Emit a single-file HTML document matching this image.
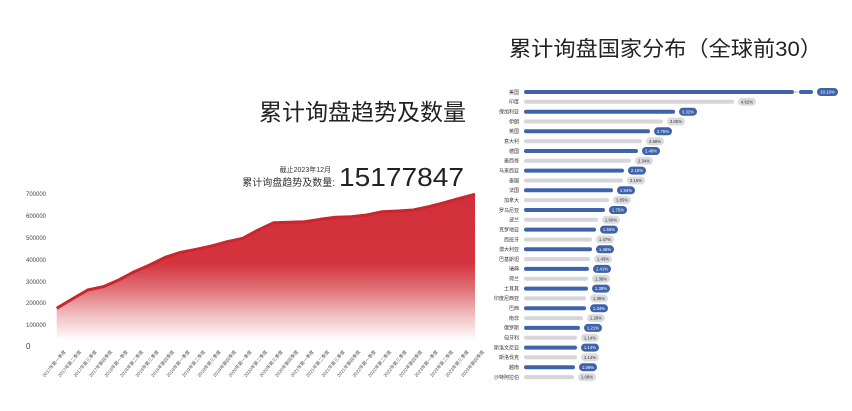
<!DOCTYPE html>
<html><head><meta charset="utf-8"><style>
html,body{margin:0;padding:0;background:#fff;}
svg{display:block;font-family:"Liberation Sans","Noto Sans CJK SC",sans-serif;}
</style></head><body>
<svg width="852" height="411" viewBox="0 0 852 411" xmlns="http://www.w3.org/2000/svg">
<defs>
<linearGradient id="g" gradientUnits="userSpaceOnUse" x1="0" y1="194" x2="0" y2="348">
<stop offset="0" stop-color="#d1303a"/>
<stop offset="0.45" stop-color="#d3343e"/>
<stop offset="0.62" stop-color="#e07378"/>
<stop offset="0.8" stop-color="#f3c4c6"/>
<stop offset="0.95" stop-color="#ffffff"/>
<stop offset="1" stop-color="#ffffff"/>
</linearGradient>
</defs>
<text x="466" y="120" font-size="23" text-anchor="end" fill="#222">累计询盘趋势及数量</text>
<text x="331" y="172" font-size="7" text-anchor="end" fill="#333">截止2023年12月</text>
<text x="335" y="186" font-size="10" text-anchor="end" fill="#333">累计询盘趋势及数量:</text>
<text x="339" y="186" font-size="26" fill="#222" textLength="125" lengthAdjust="spacingAndGlyphs">15177847</text>
<g font-size="6" fill="#444" text-anchor="start">
<text x="26" y="196">700000</text>
<text x="26" y="218">600000</text>
<text x="26" y="240">500000</text>
<text x="26" y="262">400000</text>
<text x="26" y="284">300000</text>
<text x="26" y="305">200000</text>
<text x="26" y="327">100000</text>
<text x="26" y="349" font-size="8">0</text>
</g>
<path fill="url(#g)" d="M56.7,308.3 L72.2,299 L87.7,290 L103.2,286.7 L118.7,280 L134.2,271.7 L149.7,265 L165.2,257.3 L180.7,252.3 L196.2,249.3 L211.7,246 L227.2,241.7 L242.7,238.3 L258.2,230 L273.7,222.7 L289.2,222.3 L304.7,221.7 L320.2,219.3 L335.7,217.3 L351.2,216.7 L366.7,215 L382.2,211.7 L397.7,211 L413.2,210 L428.7,206.7 L444.2,202.7 L459.7,198.3 L475,194.3 L475,348 L56.7,348 Z"/>
<path fill="none" stroke="#c9262e" stroke-width="3" stroke-linejoin="round" d="M56.7,308.3 L72.2,299 L87.7,290 L103.2,286.7 L118.7,280 L134.2,271.7 L149.7,265 L165.2,257.3 L180.7,252.3 L196.2,249.3 L211.7,246 L227.2,241.7 L242.7,238.3 L258.2,230 L273.7,222.7 L289.2,222.3 L304.7,221.7 L320.2,219.3 L335.7,217.3 L351.2,216.7 L366.7,215 L382.2,211.7 L397.7,211 L413.2,210 L428.7,206.7 L444.2,202.7 L459.7,198.3 L475,194.3"/>
<g font-size="4.6" fill="#555" text-anchor="end">
<text transform="translate(66,352) rotate(-50)">2017年第一季度</text>
<text transform="translate(81.5,352) rotate(-50)">2017年第二季度</text>
<text transform="translate(97,352) rotate(-50)">2017年第三季度</text>
<text transform="translate(112.5,352) rotate(-50)">2017年第四季度</text>
<text transform="translate(128,352) rotate(-50)">2018年第一季度</text>
<text transform="translate(143.5,352) rotate(-50)">2018年第二季度</text>
<text transform="translate(159,352) rotate(-50)">2018年第三季度</text>
<text transform="translate(174.5,352) rotate(-50)">2018年第四季度</text>
<text transform="translate(190,352) rotate(-50)">2019年第一季度</text>
<text transform="translate(205.5,352) rotate(-50)">2019年第二季度</text>
<text transform="translate(221,352) rotate(-50)">2019年第三季度</text>
<text transform="translate(236.5,352) rotate(-50)">2019年第四季度</text>
<text transform="translate(252,352) rotate(-50)">2020年第一季度</text>
<text transform="translate(267.5,352) rotate(-50)">2020年第二季度</text>
<text transform="translate(283,352) rotate(-50)">2020年第三季度</text>
<text transform="translate(298.5,352) rotate(-50)">2020年第四季度</text>
<text transform="translate(314,352) rotate(-50)">2021年第一季度</text>
<text transform="translate(329.5,352) rotate(-50)">2021年第二季度</text>
<text transform="translate(345,352) rotate(-50)">2021年第三季度</text>
<text transform="translate(360.5,352) rotate(-50)">2021年第四季度</text>
<text transform="translate(376,352) rotate(-50)">2022年第一季度</text>
<text transform="translate(391.5,352) rotate(-50)">2022年第二季度</text>
<text transform="translate(407,352) rotate(-50)">2022年第三季度</text>
<text transform="translate(422.5,352) rotate(-50)">2022年第四季度</text>
<text transform="translate(438,352) rotate(-50)">2023年第一季度</text>
<text transform="translate(453.5,352) rotate(-50)">2023年第二季度</text>
<text transform="translate(469,352) rotate(-50)">2023年第三季度</text>
<text transform="translate(484.5,352) rotate(-50)">2023年第四季度</text>
</g>
<text x="509" y="56" font-size="21" fill="#222" textLength="313" lengthAdjust="spacingAndGlyphs">累计询盘国家分布（全球前30）</text>
<g font-size="5" fill="#333" text-anchor="end">
<text x="519" y="93.8">美国</text>
<text x="519" y="103.6">印度</text>
<text x="519" y="113.5">保加利亚</text>
<text x="519" y="123.3">伊朗</text>
<text x="519" y="133.1">英国</text>
<text x="519" y="143">意大利</text>
<text x="519" y="152.8">德国</text>
<text x="519" y="162.6">墨西哥</text>
<text x="519" y="172.4">马来西亚</text>
<text x="519" y="182.3">泰国</text>
<text x="519" y="192.1">法国</text>
<text x="519" y="201.9">加拿大</text>
<text x="519" y="211.8">罗马尼亚</text>
<text x="519" y="221.6">波兰</text>
<text x="519" y="231.4">克罗地亚</text>
<text x="519" y="241.3">西班牙</text>
<text x="519" y="251.1">澳大利亚</text>
<text x="519" y="260.9">巴基斯坦</text>
<text x="519" y="270.7">瑞典</text>
<text x="519" y="280.6">荷兰</text>
<text x="519" y="290.4">土耳其</text>
<text x="519" y="300.2">印度尼西亚</text>
<text x="519" y="310.1">巴西</text>
<text x="519" y="319.9">南非</text>
<text x="519" y="329.7">俄罗斯</text>
<text x="519" y="339.6">匈牙利</text>
<text x="519" y="349.4">斯洛文尼亚</text>
<text x="519" y="359.2">斯洛伐克</text>
<text x="519" y="369">越南</text>
<text x="519" y="378.9">沙特阿拉伯</text>
</g>
<g stroke-width="4" stroke-linecap="round">
<line x1="526" y1="92" x2="792" y2="92" stroke="#3e63ab"/>
<line x1="794" y1="92" x2="798" y2="92" stroke="#9fb3d8" stroke-width="1"/>
<line x1="801" y1="92" x2="811" y2="92" stroke="#3e63ab"/>
<line x1="526" y1="101.8" x2="732" y2="101.8" stroke="#d6d6da"/>
<line x1="526" y1="111.7" x2="673" y2="111.7" stroke="#3e63ab"/>
<line x1="526" y1="121.5" x2="661" y2="121.5" stroke="#d6d6da"/>
<line x1="526" y1="131.3" x2="648" y2="131.3" stroke="#3e63ab"/>
<line x1="526" y1="141.2" x2="640" y2="141.2" stroke="#d6d6da"/>
<line x1="526" y1="151" x2="636" y2="151" stroke="#3e63ab"/>
<line x1="526" y1="160.8" x2="629" y2="160.8" stroke="#d6d6da"/>
<line x1="526" y1="170.6" x2="622" y2="170.6" stroke="#3e63ab"/>
<line x1="526" y1="180.5" x2="621" y2="180.5" stroke="#d6d6da"/>
<line x1="526" y1="190.3" x2="611" y2="190.3" stroke="#3e63ab"/>
<line x1="526" y1="200.1" x2="607" y2="200.1" stroke="#d6d6da"/>
<line x1="526" y1="210" x2="603" y2="210" stroke="#3e63ab"/>
<line x1="526" y1="219.8" x2="596" y2="219.8" stroke="#d6d6da"/>
<line x1="526" y1="229.6" x2="594" y2="229.6" stroke="#3e63ab"/>
<line x1="526" y1="239.5" x2="590" y2="239.5" stroke="#d6d6da"/>
<line x1="526" y1="249.3" x2="590" y2="249.3" stroke="#3e63ab"/>
<line x1="526" y1="259.1" x2="588" y2="259.1" stroke="#d6d6da"/>
<line x1="526" y1="268.9" x2="587" y2="268.9" stroke="#3e63ab"/>
<line x1="526" y1="278.8" x2="586" y2="278.8" stroke="#d6d6da"/>
<line x1="526" y1="288.6" x2="586" y2="288.6" stroke="#3e63ab"/>
<line x1="526" y1="298.4" x2="584" y2="298.4" stroke="#d6d6da"/>
<line x1="526" y1="308.3" x2="584" y2="308.3" stroke="#3e63ab"/>
<line x1="526" y1="318.1" x2="581" y2="318.1" stroke="#d6d6da"/>
<line x1="526" y1="327.9" x2="578" y2="327.9" stroke="#3e63ab"/>
<line x1="526" y1="337.8" x2="575" y2="337.8" stroke="#d6d6da"/>
<line x1="526" y1="347.6" x2="575" y2="347.6" stroke="#3e63ab"/>
<line x1="526" y1="357.4" x2="575" y2="357.4" stroke="#d6d6da"/>
<line x1="526" y1="367.2" x2="573" y2="367.2" stroke="#3e63ab"/>
<line x1="526" y1="377.1" x2="572" y2="377.1" stroke="#d6d6da"/>
</g>
<g font-size="4.3" text-anchor="middle">
<rect x="817" y="88" width="21" height="8" rx="4" fill="#3e63ab"/><text x="827.5" y="93.6" fill="#fff">10.10%</text>
<rect x="738" y="97.8" width="18" height="8" rx="4" fill="#dcdce0"/><text x="747" y="103.4" fill="#333">4.62%</text>
<rect x="679" y="107.7" width="18" height="8" rx="4" fill="#3e63ab"/><text x="688" y="113.3" fill="#fff">3.32%</text>
<rect x="667" y="117.5" width="18" height="8" rx="4" fill="#dcdce0"/><text x="676" y="123.1" fill="#333">3.05%</text>
<rect x="654" y="127.3" width="18" height="8" rx="4" fill="#3e63ab"/><text x="663" y="132.9" fill="#fff">2.75%</text>
<rect x="646" y="137.2" width="18" height="8" rx="4" fill="#dcdce0"/><text x="655" y="142.8" fill="#333">2.58%</text>
<rect x="642" y="147" width="18" height="8" rx="4" fill="#3e63ab"/><text x="651" y="152.6" fill="#fff">2.49%</text>
<rect x="635" y="156.8" width="18" height="8" rx="4" fill="#dcdce0"/><text x="644" y="162.4" fill="#333">2.34%</text>
<rect x="628" y="166.6" width="18" height="8" rx="4" fill="#3e63ab"/><text x="637" y="172.2" fill="#fff">2.18%</text>
<rect x="627" y="176.5" width="18" height="8" rx="4" fill="#dcdce0"/><text x="636" y="182.1" fill="#333">2.16%</text>
<rect x="617" y="186.3" width="18" height="8" rx="4" fill="#3e63ab"/><text x="626" y="191.9" fill="#fff">1.94%</text>
<rect x="613" y="196.1" width="18" height="8" rx="4" fill="#dcdce0"/><text x="622" y="201.7" fill="#333">1.85%</text>
<rect x="609" y="206" width="18" height="8" rx="4" fill="#3e63ab"/><text x="618" y="211.6" fill="#fff">1.75%</text>
<rect x="602" y="215.8" width="18" height="8" rx="4" fill="#dcdce0"/><text x="611" y="221.4" fill="#333">1.60%</text>
<rect x="600" y="225.6" width="18" height="8" rx="4" fill="#3e63ab"/><text x="609" y="231.2" fill="#fff">1.55%</text>
<rect x="596" y="235.5" width="18" height="8" rx="4" fill="#dcdce0"/><text x="605" y="241.1" fill="#333">1.47%</text>
<rect x="596" y="245.3" width="18" height="8" rx="4" fill="#3e63ab"/><text x="605" y="250.9" fill="#fff">1.46%</text>
<rect x="594" y="255.1" width="18" height="8" rx="4" fill="#dcdce0"/><text x="603" y="260.7" fill="#333">1.43%</text>
<rect x="593" y="264.9" width="18" height="8" rx="4" fill="#3e63ab"/><text x="602" y="270.5" fill="#fff">1.41%</text>
<rect x="592" y="274.8" width="18" height="8" rx="4" fill="#dcdce0"/><text x="601" y="280.4" fill="#333">1.38%</text>
<rect x="592" y="284.6" width="18" height="8" rx="4" fill="#3e63ab"/><text x="601" y="290.2" fill="#fff">1.38%</text>
<rect x="590" y="294.4" width="18" height="8" rx="4" fill="#dcdce0"/><text x="599" y="300" fill="#333">1.35%</text>
<rect x="590" y="304.3" width="18" height="8" rx="4" fill="#3e63ab"/><text x="599" y="309.9" fill="#fff">1.34%</text>
<rect x="587" y="314.1" width="18" height="8" rx="4" fill="#dcdce0"/><text x="596" y="319.7" fill="#333">1.28%</text>
<rect x="584" y="323.9" width="18" height="8" rx="4" fill="#3e63ab"/><text x="593" y="329.5" fill="#fff">1.21%</text>
<rect x="581" y="333.8" width="18" height="8" rx="4" fill="#dcdce0"/><text x="590" y="339.4" fill="#333">1.14%</text>
<rect x="581" y="343.6" width="18" height="8" rx="4" fill="#3e63ab"/><text x="590" y="349.2" fill="#fff">1.14%</text>
<rect x="581" y="353.4" width="18" height="8" rx="4" fill="#dcdce0"/><text x="590" y="359" fill="#333">1.14%</text>
<rect x="579" y="363.2" width="18" height="8" rx="4" fill="#3e63ab"/><text x="588" y="368.8" fill="#fff">1.09%</text>
<rect x="578" y="373.1" width="18" height="8" rx="4" fill="#dcdce0"/><text x="587" y="378.7" fill="#333">1.08%</text>
</g>
</svg>
</body></html>
